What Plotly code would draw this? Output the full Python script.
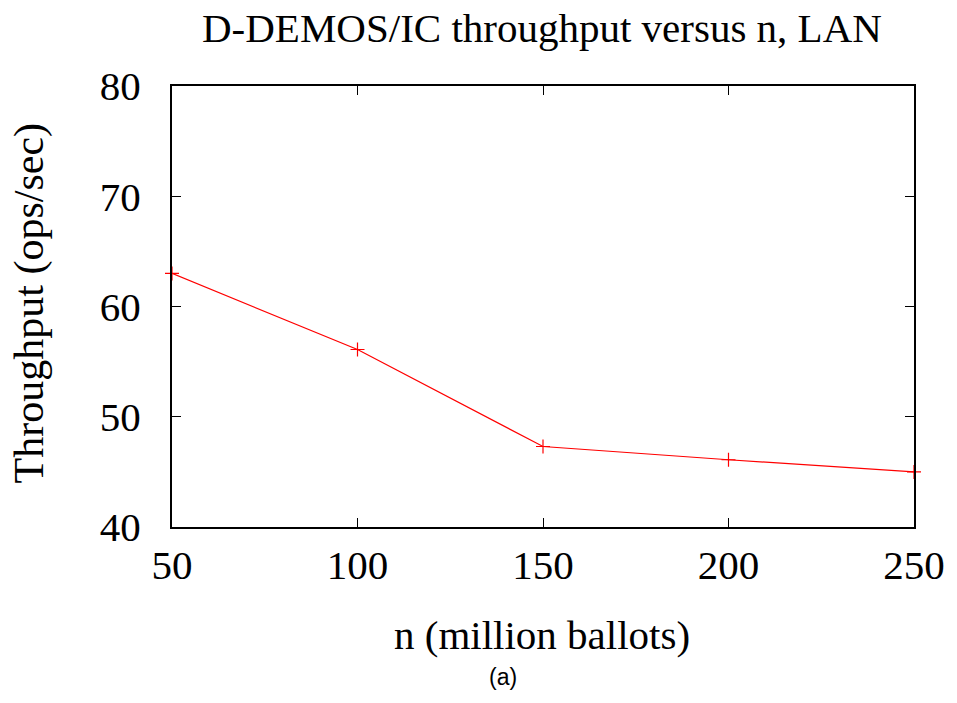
import plotly.graph_objects as go

# Throughput measurements (ops/sec) for each ballot count (millions)
n_ballots = [50, 100, 150, 200, 250]
throughput = [63.0, 56.1, 47.3, 46.1, 45.0]

x_ticks = [50, 100, 150, 200, 250]
y_ticks = [40, 50, 60, 70, 80]

W, H = 957, 703
L, R, T, B = 172, 41, 86, 176
plot_w = W - L - R
plot_h = H - T - B

serif = "Liberation Serif, Times New Roman, serif"
sans = "Liberation Sans, Arial, sans-serif"
FS = 41


def px(pix):
    """Convert a page pixel column into paper x coordinate."""
    return (pix - L) / plot_w


def py(pix):
    """Convert a page pixel row into paper y coordinate."""
    return (H - B - pix) / plot_h


fig = go.Figure()
fig.add_trace(go.Scatter(
    x=n_ballots, y=throughput, mode="lines+markers",
    line=dict(color="#ff0000", width=1.2),
    marker=dict(symbol="cross-thin", size=10, line=dict(color="#ff0000", width=1.2)),
    cliponaxis=False, showlegend=False,
))

axis_common = dict(
    showgrid=False, zeroline=False, showline=True, linecolor="black", linewidth=2,
    mirror="ticks", ticks="inside", ticklen=9, tickwidth=1, tickcolor="black",
    tickfont=dict(family=serif, size=FS, color="black"),
)

fig.update_xaxes(range=[50, 250], tickvals=x_ticks, ticktext=[str(v) for v in x_ticks],
                 ticklabelstandoff=1, **axis_common)
fig.update_yaxes(range=[40, 80], tickvals=y_ticks, ticktext=[str(v) for v in y_ticks],
                 ticklabelstandoff=21, **axis_common)


def label(text, x, y, font, angle=0):
    return dict(text=text, xref="paper", yref="paper", x=px(x), y=py(y),
                xanchor="center", yanchor="middle", showarrow=False,
                textangle=angle, font=font)


fig.update_layout(
    width=W, height=H,
    margin=dict(l=L, r=R, t=T, b=B),
    paper_bgcolor="white", plot_bgcolor="white",
    annotations=[
        label("D-DEMOS/IC throughput versus n, LAN", 543, 28,
              dict(family=serif, size=FS, color="black")),
        label("n (million ballots)", 543, 635,
              dict(family=serif, size=FS, color="black")),
        label("Throughput (ops/sec)", 29, 303,
              dict(family=serif, size=42, color="black"), angle=-90),
        label("(a)", 504, 677, dict(family=sans, size=23, color="black")),
    ],
)

fig.write_html("out.html")
